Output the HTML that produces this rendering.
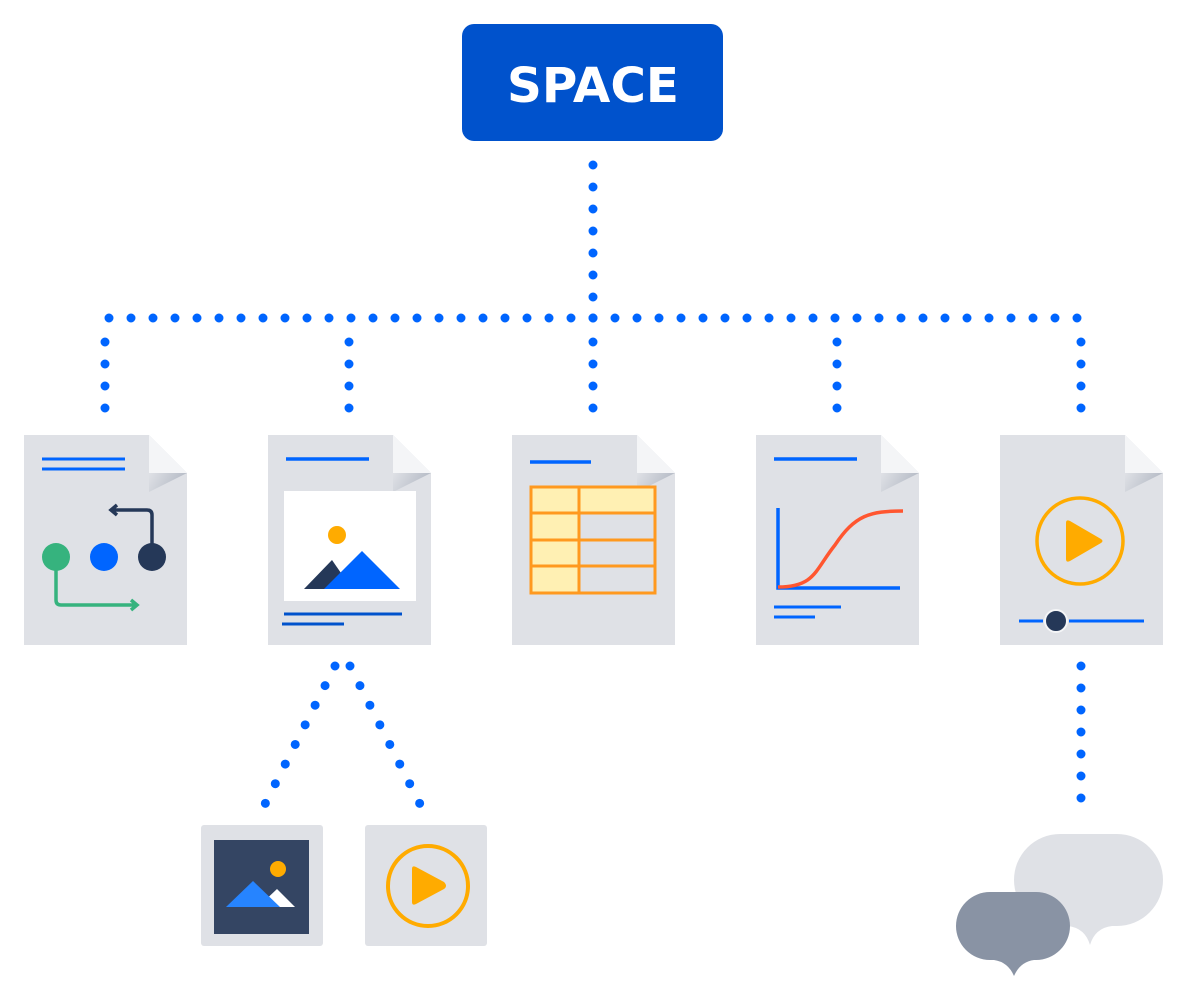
<!DOCTYPE html>
<html><head><meta charset="utf-8"><style>
html,body{margin:0;padding:0;background:#fff;width:1188px;height:1000px;overflow:hidden}
svg{display:block}
</style></head><body>
<svg width="1188" height="1000" viewBox="0 0 1188 1000" xmlns="http://www.w3.org/2000/svg">
<defs>
<linearGradient id="sh" x1="0" y1="0" x2="1" y2="0.3">
<stop offset="0" stop-color="#dfe1e6"/><stop offset="1" stop-color="#b3b9c4"/>
</linearGradient>
<g id="doc">
<polygon points="0,0 125,0 163,38 163,210 0,210" fill="#dfe1e6"/>
<polygon points="125,0 163,38 125,38" fill="#f4f5f7"/>
<polygon points="125,38 163,38 125,57" fill="url(#sh)"/>
</g>
</defs>
<rect x="462" y="24" width="261" height="117" rx="12" fill="#0052cc"/>
<text x="593" y="102" text-anchor="middle" font-family="DejaVu Sans, sans-serif" font-weight="bold" font-size="48" fill="#fff" textLength="172" lengthAdjust="spacingAndGlyphs">SPACE</text>

<g stroke="#0065ff" stroke-width="9" stroke-linecap="round" fill="none" stroke-dasharray="0 22">
<line x1="593" y1="165" x2="593" y2="300"/>
<line x1="593" y1="318" x2="1085" y2="318"/>
<line x1="593" y1="318" x2="100" y2="318"/>
<line x1="105" y1="342" x2="105" y2="412"/>
<line x1="349" y1="342" x2="349" y2="412"/>
<line x1="593" y1="342" x2="593" y2="412"/>
<line x1="837" y1="342" x2="837" y2="412"/>
<line x1="1081" y1="342" x2="1081" y2="412"/>
<line x1="335" y1="666" x2="263" y2="808"/>
<line x1="350" y1="666" x2="422" y2="808"/>
<line x1="1081" y1="666" x2="1081" y2="802"/>
</g>

<!-- doc1 -->
<use href="#doc" x="24" y="435"/>
<g stroke="#0065ff" stroke-width="3"><line x1="42" y1="459" x2="125" y2="459"/><line x1="42" y1="469" x2="125" y2="469"/></g>
<path d="M152,557 V515 Q152,510 147,510 H112 M117,505 L111,510 L117,515" stroke="#253858" stroke-width="3.5" fill="none"/>
<path d="M56,557 V600 Q56,605 61,605 H136 M131,600 L137,605 L131,610" stroke="#36b37e" stroke-width="3.5" fill="none"/>
<circle cx="56" cy="557" r="14" fill="#36b37e"/>
<circle cx="104" cy="557" r="14" fill="#0065ff"/>
<circle cx="152" cy="557" r="14" fill="#253858"/>

<!-- doc2 -->
<use href="#doc" x="268" y="435"/>
<line x1="286" y1="459" x2="369" y2="459" stroke="#0065ff" stroke-width="3.5"/>
<rect x="284" y="491" width="132" height="110" fill="#fff"/>
<circle cx="337" cy="535" r="9" fill="#ffab00"/>
<polygon points="304,589 332,560 352,589" fill="#253858"/>
<polygon points="324,589 362,551 400,589" fill="#0065ff"/>
<g stroke="#0052cc" stroke-width="3"><line x1="284" y1="614" x2="402" y2="614"/><line x1="282" y1="624" x2="344" y2="624"/></g>

<!-- doc3 -->
<use href="#doc" x="512" y="435"/>
<line x1="530" y1="462" x2="591" y2="462" stroke="#0065ff" stroke-width="3.5"/>
<rect x="531" y="487" width="124" height="106" fill="#dfe1e6"/>
<rect x="531" y="487" width="48" height="106" fill="#fff0b3"/>
<rect x="531" y="487" width="124" height="26" fill="#fff0b3"/>
<g stroke="#ff991f" stroke-width="3" fill="none">
<rect x="531" y="487" width="124" height="106"/>
<line x1="579" y1="487" x2="579" y2="593"/>
<line x1="531" y1="513" x2="655" y2="513"/>
<line x1="531" y1="540" x2="655" y2="540"/>
<line x1="531" y1="566" x2="655" y2="566"/>
</g>

<!-- doc4 -->
<use href="#doc" x="756" y="435"/>
<line x1="774" y1="459" x2="857" y2="459" stroke="#0065ff" stroke-width="3.5"/>
<path d="M778,508 V588 H900" stroke="#0065ff" stroke-width="3.5" fill="none"/>
<path d="M778,587 C815,587 815,570 835,545 C855,515 870,511 903,511" stroke="#ff5630" stroke-width="3.5" fill="none"/>
<g stroke="#0065ff" stroke-width="3"><line x1="774" y1="607" x2="841" y2="607"/><line x1="774" y1="617" x2="815" y2="617"/></g>

<!-- doc5 -->
<use href="#doc" x="1000" y="435"/>
<circle cx="1080" cy="541" r="43" fill="none" stroke="#ffab00" stroke-width="3.5"/>
<path d="M1066,523 Q1066,519 1070,521 L1101,539 Q1104,541 1101,543 L1070,561 Q1066,563 1066,559 Z" fill="#ffab00"/>
<g stroke="#0065ff" stroke-width="3"><line x1="1019" y1="621" x2="1043" y2="621"/><line x1="1069" y1="621" x2="1144" y2="621"/></g>
<circle cx="1056" cy="621" r="11" fill="#253858" stroke="#f4f5f7" stroke-width="2"/>

<!-- tiles -->
<rect x="201" y="825" width="122" height="121" rx="3" fill="#dfe1e6"/>
<rect x="214" y="840" width="95" height="94" fill="#344563"/>
<circle cx="278" cy="869" r="8" fill="#ffab00"/>
<polygon points="258,907 277,889 295,907" fill="#fff"/>
<polygon points="226,907 253,881 280,907" fill="#2684ff"/>
<rect x="365" y="825" width="122" height="121" rx="3" fill="#dfe1e6"/>
<circle cx="428" cy="886" r="40" fill="none" stroke="#ffab00" stroke-width="4"/>
<path d="M412,869 Q412,865 416,867 L444,882 Q448,886 444,889 L416,904 Q412,906 412,902 Z" fill="#ffab00"/>

<!-- chat -->
<path d="M1060,834 H1117 A46,46 0 0 1 1117,926 H1112 Q1095,928 1090,945 Q1085,928 1068,926 H1060 A46,46 0 0 1 1060,834 Z" fill="#dfe1e6"/>
<path d="M990,892 H1036 A34,34 0 0 1 1036,960 H1034 Q1020,962 1014,976 Q1008,962 994,960 H990 A34,34 0 0 1 990,892 Z" fill="#8993a4"/>
</svg>
</body></html>
